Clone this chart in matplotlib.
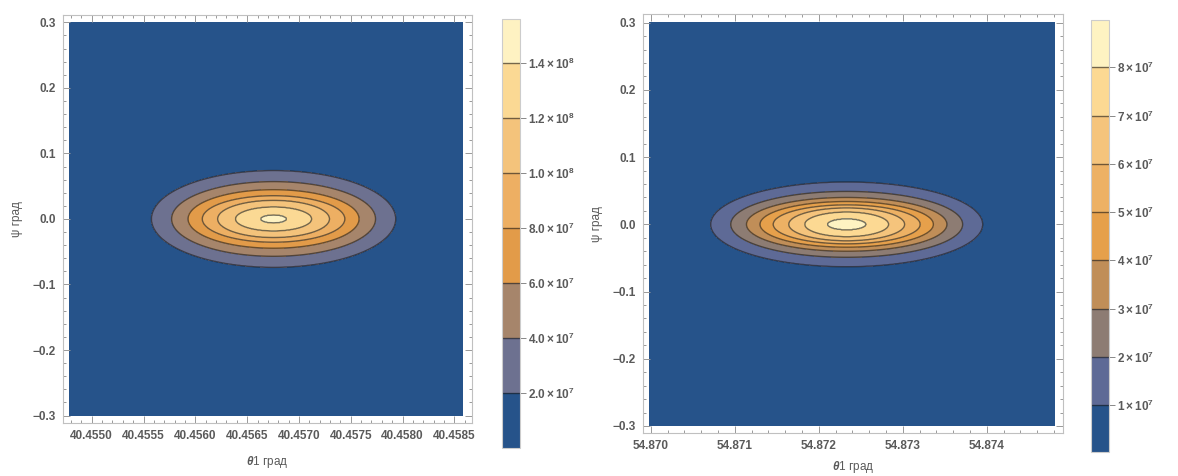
import numpy as np
import matplotlib.pyplot as plt
from matplotlib.ticker import MultipleLocator, FuncFormatter

plt.rcParams['font.family'] = ['Liberation Sans', 'DejaVu Sans']
plt.rcParams['font.weight'] = 'bold'
plt.rcParams['mathtext.fontset'] = 'custom'
plt.rcParams['mathtext.rm'] = 'Liberation Sans'
plt.rcParams['mathtext.it'] = 'Liberation Sans:italic:bold'
plt.rcParams['mathtext.bf'] = 'Liberation Sans:bold'

TEXT = '#5a5a5a'

# left panel: contour levels and ellipse half-axes
left_center = 40.456755
left_xrange = (40.45479, 40.45858)
left_xlim = (40.45472, 40.45867)
left_ylim = (-0.3114, 0.3111)
left_levels = [2e7, 4e7, 6e7, 8e7, 1.0e8, 1.2e8, 1.4e8]
left_half_w = [0.001177, 0.000984, 0.000825, 0.000688, 0.00054, 0.000368, 0.000125]
left_half_h = [0.0737, 0.057, 0.0447, 0.0355, 0.0285, 0.0185, 0.0064]
left_floor = 1e5
left_peak = 1.56e8
left_cb_labels = [r'$\mathbf{2.0\times10^{7}}$', r'$\mathbf{4.0\times10^{7}}$',
                  r'$\mathbf{6.0\times10^{7}}$', r'$\mathbf{8.0\times10^{7}}$',
                  r'$\mathbf{1.0\times10^{8}}$', r'$\mathbf{1.2\times10^{8}}$',
                  r'$\mathbf{1.4\times10^{8}}$']
left_colors = ['#26538A', '#6D7190', '#A6856B', '#E29B49', '#EDAF63',
               '#F4C37B', '#FBD994', '#FEF2C2']

# right panel
right_center = 54.872333
right_xrange = (54.86999, 54.87481)
right_xlim = (54.869905, 54.874908)
right_ylim = (-0.3109, 0.313)
right_levels = [1e7, 2e7, 3e7, 4e7, 5e7, 6e7, 7e7, 8e7]
right_half_w = [0.001617, 0.00138, 0.001193, 0.001032, 0.000875, 0.00069, 0.0005, 0.00023]
right_half_h = [0.0629, 0.049, 0.040, 0.034, 0.029, 0.0245, 0.0185, 0.0085]
right_floor = 2e5
right_peak = 8.98e7
right_cb_labels = [r'$\mathbf{%d\times10^{7}}$' % i for i in range(1, 9)]
right_colors = ['#26538A', '#5E6A96', '#8D7C73', '#C08E58', '#E6A04B',
                '#EDB164', '#F5C47C', '#FCD993', '#FEF3C2']


def build_field(X, Y, x0, half_w, half_h, levels, floor, peak):
    """
    Field whose level sets are the nested ellipses read from the picture
    """
    a = np.array([half_w[0] * 4] + list(half_w) + [half_w[-1] * 0.05])
    b = np.array([half_h[0] * 4] + list(half_h) + [half_h[-1] * 0.05])
    lv = np.array([floor] + list(levels) + [peak])
    q = np.sqrt(((X - x0) / a[:, None, None]) ** 2 + (Y / b[:, None, None]) ** 2)
    n = len(lv)
    count = (q <= 1).sum(axis=0)
    k = np.clip(count - 1, 0, n - 2)
    q0 = np.take_along_axis(q, k[None], 0)[0]
    q1 = np.take_along_axis(q, (k + 1)[None], 0)[0]
    t = np.clip((1 - q0) / (q1 - q0), 0, 1)
    z = lv[k] + t * (lv[k + 1] - lv[k])
    z[count == 0] = floor
    return z


def minus_fmt(fmt):
    # Mathematica-style long minus sign
    return FuncFormatter(lambda v, pos: (fmt % v).replace('-', '\u2212'))


def draw_panel(fig, ax, cax, center, xrange_, xlim, ylim, levels, half_w, half_h,
               floor, peak, colors, cb_labels, xmajor, xfmt, xlabelpad):
    x = np.linspace(xrange_[0], xrange_[1], 700)
    y = np.linspace(-0.3, 0.3, 700)
    X, Y = np.meshgrid(x, y)
    Z = build_field(X, Y, center, half_w, half_h, levels, floor, peak)

    bounds = [floor] + levels + [peak]
    cf = ax.contourf(X, Y, Z, levels=bounds, colors=colors)
    cl = ax.contour(X, Y, Z, levels=levels, colors=[(0.1, 0.1, 0.1, 0.6)],
                    linewidths=1.0)

    ax.set_xlim(*xlim)
    ax.set_ylim(*ylim)
    ax.xaxis.set_major_locator(MultipleLocator(xmajor))
    ax.xaxis.set_minor_locator(MultipleLocator(xmajor / 5))
    ax.xaxis.set_major_formatter(minus_fmt(xfmt))
    ax.yaxis.set_major_locator(MultipleLocator(0.1))
    ax.yaxis.set_minor_locator(MultipleLocator(0.02))
    ax.yaxis.set_major_formatter(minus_fmt('%.1f'))
    ax.tick_params(which='both', direction='in', top=True, right=True,
                   color='#999999', width=0.7, labelsize=8.5, labelcolor=TEXT)
    ax.tick_params(which='major', length=5, pad=5)
    ax.tick_params(which='minor', length=2.5)
    for sp in ax.spines.values():
        sp.set_edgecolor('#c0c0c0')
        sp.set_linewidth(0.8)

    ax.set_xlabel(r'$\theta$1 град', fontsize=8.5, color=TEXT, labelpad=xlabelpad)
    ax.set_ylabel('ψ град', fontsize=8.5, color=TEXT, labelpad=7)

    cb = fig.colorbar(cf, cax=cax, ticks=levels, spacing='proportional')
    cb.add_lines(cl)
    cb.set_ticklabels(cb_labels)
    cb.outline.set_edgecolor('#cccccc')
    cb.outline.set_linewidth(0.8)
    cax.tick_params(direction='out', length=4, width=0.7, color='#888888',
                    labelsize=8.5, labelcolor=TEXT, pad=2)


def main():
    fig = plt.figure(figsize=(11.78, 4.76), dpi=100)
    ax1 = fig.add_axes([0.0532, 0.1113, 0.3475, 0.857])
    cax1 = fig.add_axes([0.4259, 0.0588, 0.0153, 0.9013])
    ax2 = fig.add_axes([0.5456, 0.0897, 0.3568, 0.8809])
    cax2 = fig.add_axes([0.9259, 0.0498, 0.0153, 0.9082])

    draw_panel(fig, ax1, cax1, left_center, left_xrange, left_xlim, left_ylim,
               left_levels, left_half_w, left_half_h, left_floor, left_peak,
               left_colors, left_cb_labels, 0.0005, '%.4f', 9)
    draw_panel(fig, ax2, cax2, right_center, right_xrange, right_xlim, right_ylim,
               right_levels, right_half_w, right_half_h, right_floor, right_peak,
               right_colors, right_cb_labels, 0.001, '%.3f', 5)

    fig.savefig('out.png', dpi=100)


if __name__ == "__main__":
    main()
